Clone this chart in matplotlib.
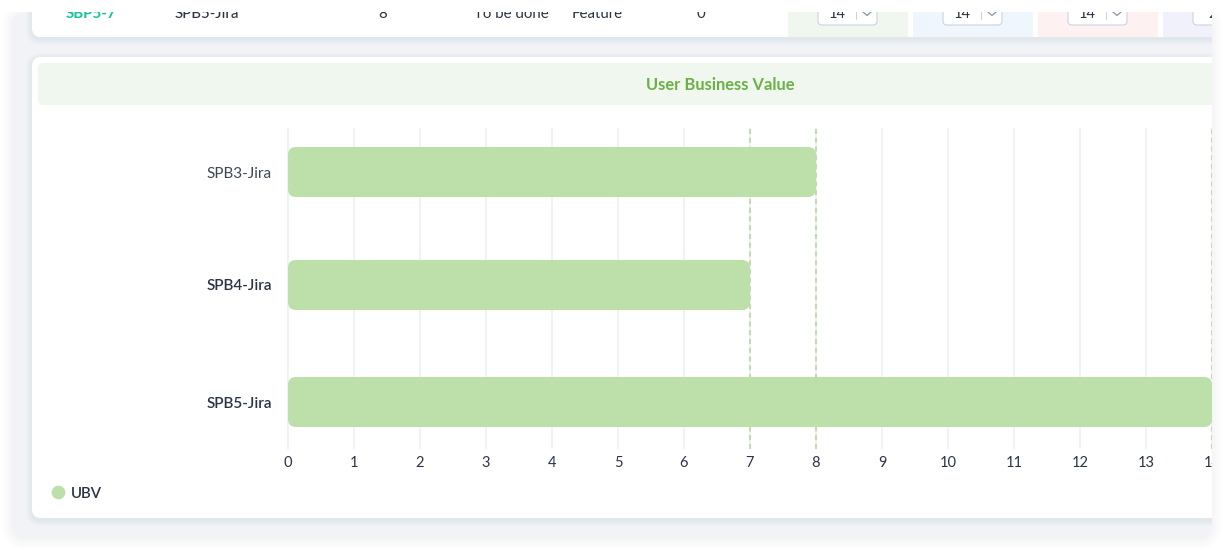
import matplotlib
matplotlib.use("Agg")
import matplotlib.pyplot as plt
from matplotlib.lines import Line2D
from matplotlib.patches import FancyBboxPatch, Rectangle

plt.rcParams['font.family'] = ['Lato', 'DejaVu Sans']

# chart data
categories = ['SPB3-Jira', 'SPB4-Jira', 'SPB5-Jira']
ubv_values = [8, 7, 14]
x_ticks = list(range(0, 15))
series_name = 'UBV'
chart_title = 'User Business Value'

# table row left over above the chart
row_cells = ['SBP5-7', 'SPB5-Jira', '8', 'To be done', 'Feature', '0']
row_numbers = ['14', '14', '14', '2']

GREEN = '#bddfaa'
GRID = '#eef1f5'
DARK = '#2b3445'
PANEL = '#f1f3f7'

W, H = 1224, 550
fig = plt.figure(figsize=(W / 100, H / 100), dpi=100, facecolor='white')

# page furniture is drawn in pixel coordinates
bg = fig.add_axes([0, 0, 1, 1])
bg.set_xlim(0, W)
bg.set_ylim(H, 0)
bg.axis('off')

page_clip = Rectangle((0, 12), 1212, H, transform=bg.transData)
card_clip = Rectangle((12, 12), 1200, H, transform=bg.transData)


def rounded(x0, y0, x1, y1, r, color, clip=None, z=1, **kw):
    p = FancyBboxPatch((x0 + r, y0 + r), x1 - x0 - 2 * r, y1 - y0 - 2 * r,
                       boxstyle=f'round,pad={r},rounding_size={r}',
                       fc=color, ec='none', zorder=z, **kw)
    bg.add_patch(p)
    if clip is not None:
        p.set_clip_path(clip)
    return p


def shadow(x0, y0, x1, y1, r, clip, z, dy=2, steps=6, alpha=0.012):
    for i in range(steps, 0, -1):
        rounded(x0 - i, y0 - i + dy, x1 + i, y1 + i + dy, r + i, '#3c4a64',
                clip=clip, z=z, alpha=alpha)


# outer panel, cut at the right edge of the screenshot
shadow(12, 12, 1212, 538, 14, None, 0.5, dy=1, steps=10, alpha=0.002)
rounded(12, 12, 1212, 538, 14, PANEL, z=1)
bg.add_patch(Rectangle((0, 0), W, 12, fc='white', ec='none', zorder=1.5))

# table card
shadow(32, -40, 1240, 37, 9, page_clip, 2, alpha=0.01)
rounded(32, -40, 1240, 37, 9, 'white', clip=card_clip, z=3)

# chart card
shadow(32, 57, 1240, 518, 9, page_clip, 2, alpha=0.01)
rounded(32, 57, 1240, 518, 9, 'white', clip=card_clip, z=3)
rounded(38, 63, 1240, 105, 6, '#f0f7ee', clip=card_clip, z=4)
bg.text(720.5, 84.5, chart_title, color='#6cb048', fontsize=11.9, fontweight='bold',
        ha='center', va='center', zorder=5)

# remains of the table row
cell_x = [91, 207, 383, 511, 597, 701]
cell_colors = ['#12c39a', DARK, DARK, DARK, DARK, DARK]
cell_weights = ['bold', 'medium', 'normal', 'normal', 'normal', 'normal']
for label, x, c, w in zip(row_cells, cell_x, cell_colors, cell_weights):
    t = bg.text(x, 14, label, color=c, fontweight=w, fontsize=10.8, ha='center',
                va='center', zorder=5, clip_on=True)
    t.set_clip_path(card_clip)

band_x = [(788, 908, '#f0f7ee'), (913, 1033, '#eff6fd'), (1038, 1158, '#fef1f1'),
          (1163, 1283, '#f0f1fa')]
for (x0, x1, c), num in zip(band_x, row_numbers):
    r = Rectangle((x0, 12), x1 - x0, 25, fc=c, ec='none', zorder=4)
    bg.add_patch(r)
    r.set_clip_path(card_clip)
    box = FancyBboxPatch((x0 + 30, -20), 59, 45, boxstyle='round,pad=0,rounding_size=4',
                         fc='white', ec='#ccd3de', lw=0.8, zorder=5)
    bg.add_patch(box)
    box.set_clip_path(card_clip)
    t = bg.text(x0 + 49.5, 14, num, color=DARK, fontsize=10.5, ha='center', va='center',
                zorder=6, clip_on=True)
    t.set_clip_path(card_clip)
    for artist in bg.plot([x0 + 68, x0 + 68], [12, 19], color='#ccd3de', lw=0.7, zorder=6):
        artist.set_clip_path(card_clip)
    for artist in bg.plot([x0 + 75, x0 + 79, x0 + 83], [12, 15.5, 12], color='#8a95a8',
                          lw=0.9, zorder=6):
        artist.set_clip_path(card_clip)

# chart axes: x is the value scale, y stays in pixels so the rows land where they do
left, right, top, bottom = 288, 1212, 128, 449
ax = fig.add_axes([left / W, 1 - bottom / H, (right - left) / W, (bottom - top) / H])
ax.patch.set_alpha(0)
ax.set_xlim(0, 14)
ax.set_ylim(bottom, top)
for s in ax.spines.values():
    s.set_visible(False)

px_per_unit = (right - left) / 14
row_centers = [172, 285, 402]
bar_height = 50
radius = 8 / px_per_unit

ax.set_xticks(x_ticks)
ax.set_yticks(row_centers)
ax.set_yticklabels(categories)
ax.tick_params(length=0)
ax.tick_params(axis='x', pad=5, labelsize=10.5, labelcolor=DARK)
ax.tick_params(axis='y', pad=11.5, labelsize=11, labelcolor=DARK)
ax.grid(axis='x', color=GRID, lw=1.2, zorder=0)
ax.set_axisbelow(True)
# gridline at zero sits on the axes edge, keep its full width
ax.get_xgridlines()[0].set_clip_on(False)

# the two lower labels carry the heavier weight
for lab, w, c in zip(ax.get_yticklabels(), ['normal', 'semibold', 'semibold'],
                     ['#3d4757', DARK, DARK]):
    lab.set_fontweight(w)
    lab.set_color(c)

for lab in ax.get_xticklabels():
    lab.set_clip_on(True)
    lab.set_clip_path(page_clip)

for value, center in zip(ubv_values, row_centers):
    bar = FancyBboxPatch((radius, center - bar_height / 2 + 8), value - 2 * radius,
                         bar_height - 16,
                         boxstyle=f'round,pad={radius},rounding_size={radius}',
                         mutation_aspect=px_per_unit, fc=GREEN, ec='none', zorder=2)
    ax.add_patch(bar)

# dashed guides at the end of each bar
for value in sorted(set(ubv_values)):
    ax.axvline(value, color=GREEN, lw=1.4, ls=(0, (2.6, 1.9)), zorder=3)

handle = Line2D([], [], marker='o', ls='none', color=GREEN, markersize=8.8)
leg = fig.legend([handle], [series_name], loc='center left', frameon=False,
                 bbox_to_anchor=(35 / W, 1 - 493.5 / H), handletextpad=-0.1,
                 prop={'size': 10.8, 'weight': 'semibold'}, labelcolor=DARK, borderpad=0)

fig.savefig('out.png', dpi=100)
